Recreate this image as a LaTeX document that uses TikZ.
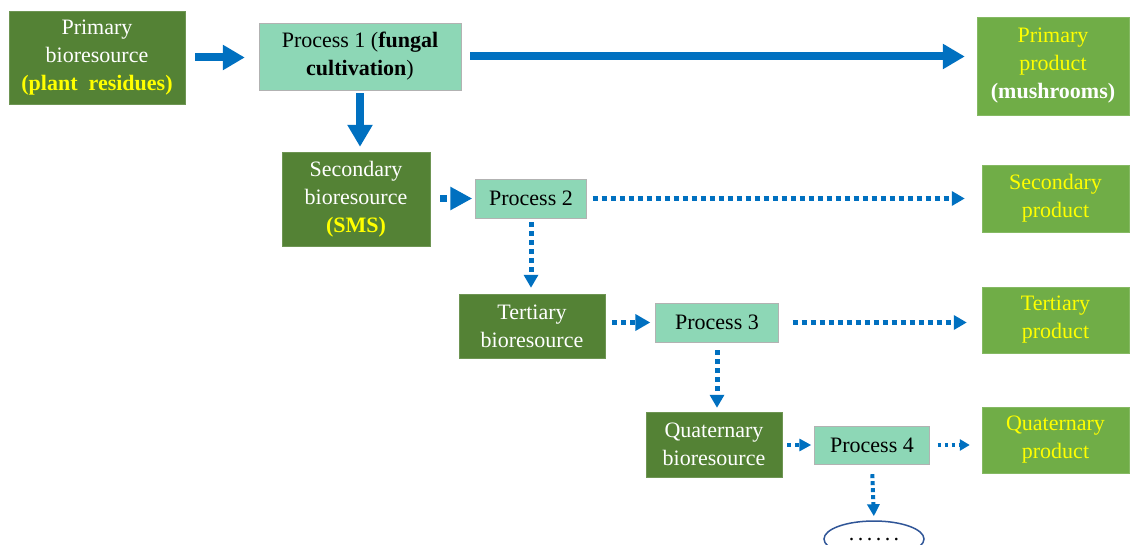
\documentclass[tikz,border=0pt]{standalone}
\usepackage{fontspec}
\setmainfont{Liberation Serif}
\usetikzlibrary{arrows.meta,shapes.geometric}
\definecolor{resgreen}{HTML}{548235}
\definecolor{prodgreen}{HTML}{70AD47}
\definecolor{procmint}{HTML}{8DD7B6}
\definecolor{arrowblue}{HTML}{0070C0}
\definecolor{ovalblue}{HTML}{2F5597}
\definecolor{txtyellow}{HTML}{FFFF00}
\begin{document}
\begin{tikzpicture}[x=1pt,y=-1pt,
    every node/.style={font=\fontsize{22}{28}\selectfont,align=center,inner sep=0pt},
    resource/.style={fill=resgreen,draw=resgreen!85!white,text=white},
    process/.style={fill=procmint,draw=gray!60,text=black},
    product/.style={fill=prodgreen,draw=prodgreen!85!white,text=txtyellow},
    flow/.style={arrowblue,line width=8pt,-{Triangle[length=22pt,width=24pt]}},
    dotflow/.style={arrowblue,line width=5pt,dash pattern=on 5pt off 4pt,-{Triangle[length=13pt,width=14pt]}}]
                \useasboundingbox (0,0) rectangle (1130,545);
                % bioresources
                \node[resource,minimum width=176pt,minimum height=93pt] (pb) at (97,57.5) {Primary\\bioresource\\{\color{txtyellow}\bfseries(plant\ \ residues)}};
                \node[resource,minimum width=148pt,minimum height=94pt] (sb) at (356,199) {Secondary\\bioresource\\{\color{txtyellow}\bfseries(SMS)}};
                \node[resource,minimum width=146pt,minimum height=64pt] (tb) at (532,326) {Tertiary\\bioresource};
                \node[resource,minimum width=136pt,minimum height=65pt] (qb) at (714,444.5) {Quaternary\\bioresource};
                % processes
                \node[process,minimum width=202pt,minimum height=67pt] (p1) at (360,56.5) {Process 1 (\textbf{fungal}\\\textbf{cultivation})};
                \node[process,minimum width=111pt,minimum height=39pt] (p2) at (531,198.5) {Process 2};
                \node[process,minimum width=123pt,minimum height=39pt] (p3) at (717,322.5) {Process 3};
                \node[process,minimum width=115pt,minimum height=38pt] (p4) at (872,445) {Process 4};
                % products
                \node[product,minimum width=152pt,minimum height=98pt] (pp) at (1053,66) {Primary\\product\\{\color{white}\bfseries(mushrooms)}};
                \node[product,minimum width=147pt,minimum height=67pt] (sp) at (1055.5,198.5) {Secondary\\product};
                \node[product,minimum width=147pt,minimum height=66pt] (tp) at (1055.5,320) {Tertiary\\product};
                \node[product,minimum width=147pt,minimum height=66pt] (qp) at (1055.5,440) {Quaternary\\product};
                \node[ellipse,draw=ovalblue,line width=1.5pt,minimum width=100pt,minimum height=36pt] (more) at (874,539) {\raisebox{-4pt}{.\hspace{3.5pt}.\hspace{3.5pt}.\hspace{3.5pt}.\hspace{3.5pt}.\hspace{3.5pt}.}};
                % solid arrows
                \draw[flow,shorten <=10pt,shorten >=14pt] (pb.east) -- (pb.east -| p1.west);
                \draw[flow,shorten <=9pt,shorten >=12pt] (p1.east) -- (p1.east -| pp.west);
                \draw[flow,shorten <=3pt,shorten >=5pt] (p1.south) -- (p1.south |- sb.north);
                % dotted arrows
                \draw[dotflow,line width=7pt,dash pattern=on 7pt off 7pt,-{Triangle[length=22pt,width=22pt]},shorten <=10pt,shorten >=3pt] (sb.east |- p2.west) -- (p2.west);
                \draw[dotflow,shorten <=6pt,shorten >=17pt] (p2.east) -- (p2.east -| sp.west);
                \draw[dotflow,shorten <=4pt,shorten >=6pt] (p2.south) -- (p2.south |- tb.north);
                \draw[dotflow,-{Triangle[length=15pt,width=16pt]},shorten <=7pt,shorten >=5pt] (tb.east |- p3.west) -- (p3.west);
                \draw[dotflow,shorten <=14pt,shorten >=15pt] (p3.east) -- (p3.east -| tp.west);
                \draw[dotflow,shorten <=8pt,shorten >=4pt] (p3.south) -- (p3.south |- qb.north);
                \draw[dotflow,line width=4pt,dash pattern=on 4pt off 4pt,-{Triangle[length=12pt,width=12pt]},shorten <=5pt,shorten >=3pt] (qb.east |- p4.west) -- (p4.west);
                \draw[dotflow,line width=3.5pt,dash pattern=on 3.5pt off 3.5pt,-{Triangle[length=10pt,width=11pt]},shorten <=8pt,shorten >=12pt] (p4.east) -- (p4.east -| qp.west);
                \draw[dotflow,line width=4pt,dash pattern=on 4pt off 3pt,-{Triangle[length=12pt,width=12pt]},shorten <=10pt,shorten >=4pt] (p4.south) -- (more.north);
            \end{tikzpicture}
\end{document}
